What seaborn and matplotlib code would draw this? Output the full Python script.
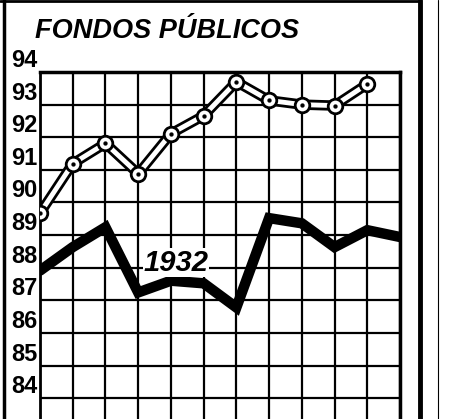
import pandas as pd
import numpy as np
import matplotlib.pyplot as plt
import seaborn as sns
from matplotlib.lines import Line2D

sns.set_style('white')
plt.rcParams['font.family'] = ['Liberation Sans', 'DejaVu Sans']
plt.rcParams['text.color'] = 'black'
plt.rcParams['ytick.color'] = 'black'

# values (one point per month)
meses_anterior = list(range(11))
cotiz_anterior = [89.67, 91.19, 91.81, 90.88, 92.11, 92.66, 93.70, 93.13, 93.00, 92.97, 93.63]
meses_1932 = list(range(12))
cotiz_1932 = [87.91, 88.63, 89.24, 87.24, 87.60, 87.52, 86.78, 89.52, 89.36, 88.63, 89.15, 88.94]
y_ticks = list(range(84, 95))
y_labels = [str(v) for v in y_ticks]

df_ant = pd.DataFrame({'mes': meses_anterior, 'valor': cotiz_anterior})
df_32 = pd.DataFrame({'mes': meses_1932, 'valor': cotiz_1932})

fig = plt.figure(figsize=(4.51, 4.19), dpi=100)
ax = fig.add_axes([40 / 451, 0.0, 360 / 451, 1 - 72 / 419])

# 1932: heavy black line
sns.lineplot(data=df_32, x='mes', y='valor', ax=ax, color='black', lw=7.5,
             solid_joinstyle='miter', zorder=3)

# other year: hollow double line with ringed points
sns.lineplot(data=df_ant, x='mes', y='valor', ax=ax, color='black', lw=7.5, zorder=4)
sns.lineplot(data=df_ant, x='mes', y='valor', ax=ax, color='white', lw=3.5, zorder=5)
sns.scatterplot(data=df_ant, x='mes', y='valor', ax=ax, s=110, color='white',
                edgecolor='black', linewidth=2, zorder=6)
sns.scatterplot(data=df_ant, x='mes', y='valor', ax=ax, s=8, color='black',
                edgecolor='black', zorder=7)

ax.text(4.15, 88.15, '1932', fontsize=21, style='italic', fontweight='bold',
        ha='center', va='center', color='black', zorder=8,
        bbox=dict(facecolor='white', edgecolor='none', pad=0.3))

ax.set_xlim(0, 11)
ax.set_ylim(83.36, 94)
ax.set_xticks(range(12))
ax.set_xticklabels([])
ax.set_yticks(y_ticks)
ax.set_yticklabels(y_labels, fontsize=17, fontweight='bold')
for lab in ax.get_yticklabels():
    lab.set_verticalalignment('bottom')
ax.tick_params(length=0, pad=2)
ax.set_xlabel('')
ax.set_ylabel('')
ax.grid(True, color='black', lw=1.6)
for side in ['top', 'left', 'right']:
    ax.spines[side].set_color('black')
ax.spines['top'].set_linewidth(2.5)
ax.spines['left'].set_linewidth(2)
ax.spines['right'].set_linewidth(2.5)
ax.spines['bottom'].set_visible(False)

fig.text(35 / 451, 1 - 38 / 419, 'FONDOS PÚBLICOS', fontsize=19.5, fontweight='bold',
         style='italic', va='baseline', ha='left')

# page frame around the clipping
fig.add_artist(Line2D([4 / 451, 4 / 451], [0, 1], color='black', lw=2.5))
fig.add_artist(Line2D([0, 420 / 451], [0.998, 0.998], color='black', lw=2))
fig.add_artist(Line2D([420 / 451, 420 / 451], [0, 1], color='black', lw=3.5))
fig.add_artist(Line2D([438 / 451, 438 / 451], [0, 1], color='black', lw=0.8))

fig.savefig('out.png', dpi=100, facecolor='white')
